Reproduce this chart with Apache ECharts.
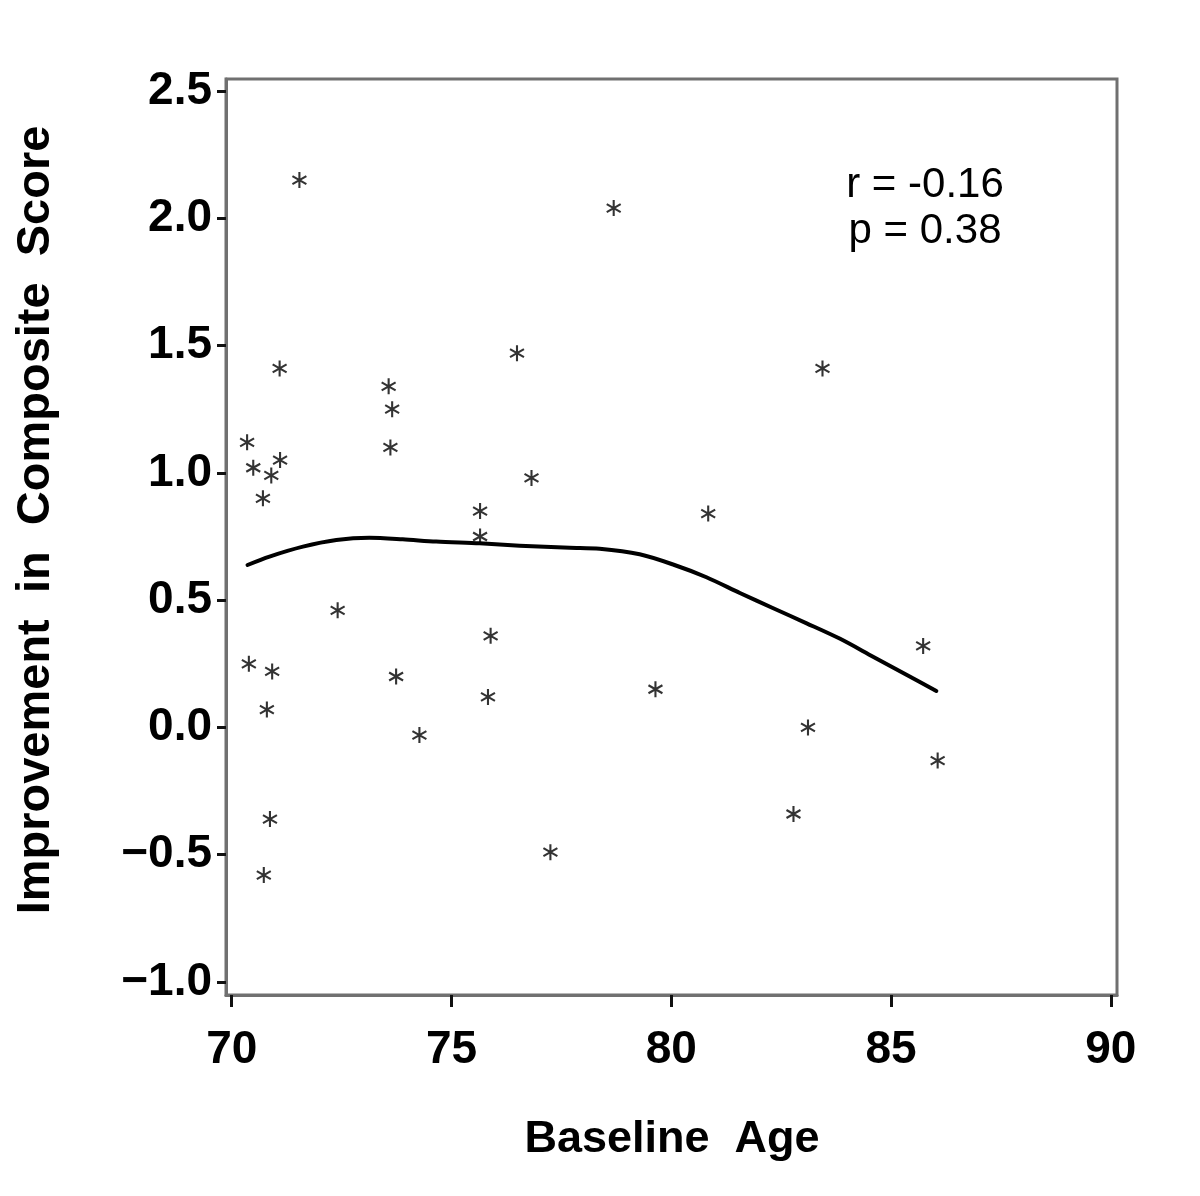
<!DOCTYPE html>
<html>
<head>
<meta charset="utf-8">
<script src="https://cdn.jsdelivr.net/npm/echarts@6/dist/echarts.min.js"></script>
<style>
	html, body { margin: 0; padding: 0; background: #fff; }
	#main { width: 1200px; height: 1196px; }
</style>
</head>
<body>
<div id="main"></div>
<script>
// scatter points
var ages = [71.54, 78.69, 71.09, 76.49, 83.44, 73.57, 73.65, 73.61, 70.35, 70.49, 71.10,
	70.90, 70.71, 76.82, 75.65, 75.65, 80.84, 72.41, 85.73, 70.39, 70.92, 75.89, 73.74,
	75.83, 79.64, 70.80, 74.27, 83.11, 86.06, 70.87, 82.78, 77.25, 70.73];
var scores = [2.15, 2.04, 1.41, 1.47, 1.41, 1.34, 1.25, 1.10, 1.12, 1.02, 1.05,
	0.99, 0.90, 0.98, 0.85, 0.75, 0.84, 0.46, 0.32, 0.25, 0.22, 0.36, 0.20,
	0.12, 0.15, 0.07, -0.03, 0.00, -0.13, -0.36, -0.34, -0.49, -0.58];

// smoothed fit line
var curveAges = [70.36, 70.86, 71.62, 72.38, 73.13, 73.89, 74.65, 75.64, 76.55, 77.69, 78.37,
	79.28, 80.04, 80.80, 81.56, 82.32, 83.08, 83.83, 84.59, 85.35, 86.03];
var curveScores = [0.638, 0.671, 0.710, 0.736, 0.745, 0.739, 0.730, 0.723, 0.714, 0.706, 0.702,
	0.680, 0.640, 0.590, 0.528, 0.468, 0.409, 0.349, 0.278, 0.207, 0.143];

var xTicks = [70, 75, 80, 85, 90];
var yTicks = [-1.0, -0.5, 0.0, 0.5, 1.0, 1.5, 2.0, 2.5];
var statLines = ['r = -0.16', 'p = 0.38'];

var asterisk = 'path://M43.5,0 L56.5,0 L56.5,100 L43.5,100 Z M3.5,30.6 L10,19.4 L96.5,69.4 L90,80.6 Z M90,19.4 L96.5,30.6 L10,80.6 L3.5,69.4 Z';

function pairs(xs, ys){
	var arr = [];
	for(var i=0; i<xs.length; i++){
		arr.push([xs[i], ys[i]]);
	}
	return arr;
}

var chart = echarts.init(document.getElementById('main'));

var option = {
	animation: false,
	backgroundColor: '#fff',
	grid: {
		show: true,
		left: 226,
		top: 79,
		right: 83,
		bottom: 201,
		borderColor: '#707070',
		borderWidth: 3,
		backgroundColor: '#fff'
	},
	xAxis: {
		type: 'value',
		min: 69.87,
		max: 90.14,
		splitLine: { show: false },
		axisLine: { show: true, onZero: false, lineStyle: { color: '#707070', width: 3 } },
		axisTick: {
			show: true,
			customValues: xTicks,
			length: 12,
			lineStyle: { color: '#111', width: 3 }
		},
		axisLabel: {
			customValues: xTicks,
			margin: 32,
			color: '#000',
			fontFamily: 'Liberation Sans',
			fontWeight: 'bold',
			fontSize: 46
		}
	},
	yAxis: {
		type: 'value',
		min: -1.051,
		max: 2.547,
		splitLine: { show: false },
		axisLine: { show: true, onZero: false, lineStyle: { color: '#707070', width: 3 } },
		axisTick: {
			show: true,
			customValues: yTicks,
			length: 9,
			lineStyle: { color: '#111', width: 3 }
		},
		axisLabel: {
			customValues: yTicks,
			margin: 14,
			color: '#000',
			fontFamily: 'Liberation Sans',
			fontWeight: 'bold',
			fontSize: 46,
			formatter: function(v){
				return (v < 0 ? '\u2212' : '') + Math.abs(v).toFixed(1);
			}
		}
	},
	graphic: [
		{
			type: 'text',
			x: 672,
			y: 1140,
			style: {
				text: 'Baseline  Age',
				fontFamily: 'Liberation Sans',
				fontWeight: 'bold',
				fontSize: 45,
				fill: '#000',
				align: 'center',
				verticalAlign: 'middle'
			}
		},
		{
			type: 'text',
			x: 36,
			y: 520,
			rotation: Math.PI / 2,
			style: {
				text: 'Improvement  in  Composite  Score',
				fontFamily: 'Liberation Sans',
				fontWeight: 'bold',
				fontSize: 47,
				fill: '#000',
				align: 'center',
				verticalAlign: 'middle'
			}
		},
		{
			type: 'text',
			x: 925,
			y: 208,
			style: {
				text: statLines.join('\n'),
				fontFamily: 'Liberation Sans',
				fontSize: 42,
				lineHeight: 46,
				fill: '#000',
				align: 'center',
				verticalAlign: 'middle'
			}
		}
	],
	series: [
		{
			type: 'line',
			data: pairs(curveAges, curveScores),
			smooth: 0.3,
			showSymbol: false,
			lineStyle: { color: '#000', width: 4, cap: 'round', join: 'round' },
			z: 2
		},
		{
			type: 'scatter',
			data: pairs(ages, scores),
			symbol: asterisk,
			symbolSize: [15, 16],
			itemStyle: { color: '#000' },
			z: 3
		}
	]
};

chart.setOption(option);
</script>
</body>
</html>
